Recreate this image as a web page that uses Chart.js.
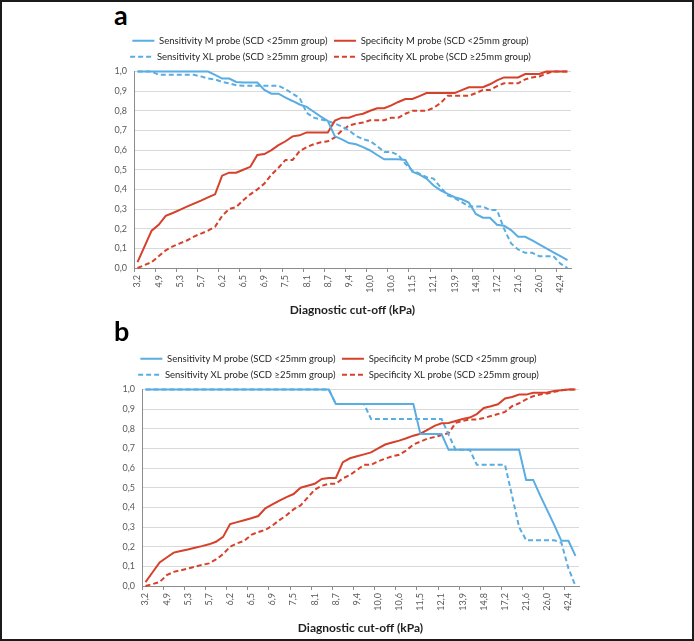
<!DOCTYPE html>
<html>
<head>
<meta charset="utf-8">
<script src="https://cdn.jsdelivr.net/npm/chart.js@4.4.1/dist/chart.umd.min.js"></script>
<style>
  html, body { margin: 0; padding: 0; background: #fff; }
  body { width: 694px; height: 641px; position: relative; overflow: hidden; }
  .frame { position: absolute; left: 0; top: 0; width: 694px; height: 641px; box-sizing: border-box; border: 2px solid #1b1b1b; pointer-events: none; }
  .panel-letter { position: absolute; font-family: Lato, 'Liberation Sans', sans-serif; font-weight: bold; font-size: 27px; color: #000; line-height: 1; }
  canvas { position: absolute; }
</style>
</head>
<body>
<div class="panel-letter" style="left:114px; top:1px;">a</div>
<canvas id="chartA" width="520" height="320" style="left:85px; top:0px;"></canvas>
<div class="panel-letter" style="left:114px; top:317px;">b</div>
<canvas id="chartB" width="520" height="321" style="left:93px; top:320px;"></canvas>
<div class="frame"></div>
<script>
// Cut-off values shown on the x axis (every third cut-off is labelled)
const tickLabels = ['3,2', '4,9', '5,3', '5,7', '6,2', '6,5', '6,9', '7,5', '8,1', '8,7', '9,4',
    '10,0', '10,6', '11,5', '12,1', '13,9', '14,8', '17,2', '21,6', '26,0', '42,4'];
const categoryCount = 62;
const categories = [];
for (let i = 0; i < categoryCount; i++) {
    categories.push(i % 3 === 0 ? tickLabels[i / 3] : '');
}

const seriesNames = [
    'Sensitivity M probe (SCD <25mm group)',
    'Specificity M probe (SCD <25mm group)',
    'Sensitivity XL probe (SCD \u226525mm group)',
    'Specificity XL probe (SCD \u226525mm group)'
];

// Panel a
const sensM_a = [1, 1, 1, 1, 1, 1, 1, 1, 1, 1, 1,
    0.983, 0.964, 0.964, 0.947, 0.944, 0.944, 0.944, 0.906, 0.887, 0.887,
    0.867, 0.85, 0.832, 0.82, 0.795, 0.77, 0.748, 0.67, 0.655, 0.636,
    0.63, 0.615, 0.598, 0.575, 0.553, 0.553, 0.553, 0.55, 0.49, 0.475,
    0.455, 0.42, 0.395, 0.377, 0.36, 0.35, 0.333, 0.275, 0.256, 0.256,
    0.22, 0.215, 0.193, 0.159, 0.159, 0.14, 0.12, 0.10, 0.08, 0.06, 0.04];
const specM_a = [0.03, 0.11, 0.19, 0.22, 0.265, 0.28, 0.296, 0.312, 0.328, 0.343, 0.359,
    0.375, 0.47, 0.485, 0.485, 0.50, 0.515, 0.575, 0.58, 0.60, 0.625,
    0.645, 0.67, 0.675, 0.69, 0.69, 0.69, 0.69, 0.75, 0.765, 0.765,
    0.778, 0.785, 0.80, 0.813, 0.813, 0.828, 0.845, 0.86, 0.86, 0.875,
    0.89, 0.89, 0.89, 0.89, 0.89, 0.905, 0.92, 0.92, 0.92, 0.935,
    0.955, 0.97, 0.97, 0.97, 0.987, 0.987, 0.987, 1, 1, 1, 1];
const sensXL_a = [1, 1, 1, 0.983, 0.983, 0.983, 0.983, 0.983, 0.983,
    0.975, 0.964, 0.96, 0.947, 0.94, 0.93, 0.927, 0.927, 0.927, 0.927, 0.927, 0.927,
    0.91, 0.887, 0.865, 0.79, 0.765, 0.756, 0.748, 0.735, 0.72, 0.70,
    0.672, 0.655, 0.646, 0.62, 0.59, 0.59, 0.575, 0.53, 0.495, 0.48,
    0.462, 0.455, 0.41, 0.37, 0.356, 0.335, 0.313, 0.313, 0.313, 0.295,
    0.295, 0.2, 0.125, 0.094, 0.077, 0.077, 0.06, 0.06, 0.06, 0.022, 0];
const specXL_a = [0, 0.015, 0.03, 0.06, 0.09, 0.11, 0.125, 0.14, 0.16, 0.175, 0.19,
    0.21, 0.265, 0.30, 0.31, 0.345, 0.375, 0.40, 0.43, 0.475, 0.51,
    0.55, 0.55, 0.595, 0.615, 0.63, 0.64, 0.645, 0.665, 0.70, 0.725,
    0.735, 0.74, 0.752, 0.752, 0.752, 0.765, 0.765, 0.785, 0.80, 0.80,
    0.80, 0.815, 0.84, 0.876, 0.876, 0.876, 0.876, 0.89, 0.906, 0.906,
    0.925, 0.94, 0.94, 0.94, 0.96, 0.97, 0.975, 0.99, 1, 1, 1];

// Panel b
const sensM_b = [1, 1, 1, 1, 1, 1, 1, 1, 1, 1, 1, 1, 1, 1, 1, 1, 1, 1, 1, 1, 1, 1, 1, 1, 1, 1, 1,
    0.926, 0.926, 0.926, 0.926, 0.926, 0.926, 0.926, 0.926, 0.926, 0.926, 0.926, 0.926,
    0.773, 0.773, 0.773, 0.773,
    0.693, 0.693, 0.693, 0.693, 0.693, 0.693, 0.693, 0.693, 0.693, 0.693, 0.693,
    0.54, 0.54, 0.46, 0.385, 0.31, 0.23, 0.23, 0.153];
const specM_b = [0.02, 0.07, 0.12, 0.145, 0.17, 0.178, 0.186, 0.195, 0.203, 0.212, 0.225,
    0.25, 0.315, 0.325, 0.335, 0.345, 0.356, 0.395, 0.415, 0.435, 0.452,
    0.468, 0.50, 0.51, 0.52, 0.545, 0.55, 0.55, 0.63, 0.65, 0.66,
    0.67, 0.68, 0.70, 0.72, 0.73, 0.74, 0.752, 0.765, 0.775, 0.795,
    0.815, 0.828, 0.83, 0.84, 0.85, 0.857, 0.875, 0.906, 0.915, 0.925,
    0.954, 0.962, 0.974, 0.974, 0.983, 0.983, 0.985, 0.993, 0.996, 1, 1];
const sensXL_b = [1, 1, 1, 1, 1, 1, 1, 1, 1, 1, 1, 1, 1, 1, 1, 1, 1, 1, 1, 1, 1, 1, 1, 1, 1, 1, 1,
    0.926, 0.926, 0.926, 0.926, 0.926,
    0.85, 0.85, 0.85, 0.85, 0.85, 0.85, 0.85, 0.85, 0.85, 0.85, 0.85,
    0.77, 0.693, 0.693, 0.693,
    0.617, 0.617, 0.617, 0.617, 0.617,
    0.46, 0.30, 0.233, 0.233, 0.233, 0.233, 0.233, 0.22, 0.09, 0];
const specXL_b = [0, 0.01, 0.02, 0.055, 0.072, 0.08, 0.089, 0.098, 0.107, 0.115, 0.135,
    0.162, 0.2, 0.217, 0.23, 0.26, 0.275, 0.285, 0.308, 0.335, 0.36,
    0.39, 0.41, 0.45, 0.49, 0.51, 0.52, 0.52, 0.548, 0.565, 0.59,
    0.617, 0.617, 0.635, 0.648, 0.66, 0.668, 0.69, 0.72, 0.735, 0.75,
    0.758, 0.768, 0.778, 0.83, 0.84, 0.847, 0.847, 0.855, 0.865, 0.875,
    0.886, 0.915, 0.93, 0.95, 0.966, 0.975, 0.98, 0.988, 0.996, 1, 1];

const FONT = "Lato, 'Liberation Sans', sans-serif";
const BLUE = '#5aade2';
const RED = '#d5412a';
const DASH = [5, 3];
const AXIS_GREY = '#8c8c8c';

// legend samples: same width and dash as the plotted lines
function legendLabels(chart) {
    return Chart.defaults.plugins.legend.labels.generateLabels(chart).map(item => {
        const ds = chart.data.datasets[item.datasetIndex];
        item.strokeStyle = ds.borderColor;
        item.lineWidth = 2;
        item.lineDash = ds.borderDash || [];
        return item;
    });
}

function buildChart(canvasId, series, pad) {
    const ctx = document.getElementById(canvasId).getContext('2d');
    return new Chart(ctx, {
        type: 'line',
        data: {
            labels: categories,
            datasets: [
                { label: seriesNames[0], data: series[0], borderColor: BLUE, backgroundColor: BLUE },
                { label: seriesNames[1], data: series[1], borderColor: RED, backgroundColor: RED },
                { label: seriesNames[2], data: series[2], borderColor: BLUE, backgroundColor: BLUE, borderDash: DASH },
                { label: seriesNames[3], data: series[3], borderColor: RED, backgroundColor: RED, borderDash: DASH }
            ]
        },
        options: {
            responsive: false,
            animation: false,
            clip: 4,
            layout: {
                padding: { top: pad.top, left: 5, right: 34, bottom: 0 }
            },
            elements: {
                point: { radius: 0 },
                line: { borderWidth: 2, tension: 0, fill: false }
            },
            plugins: {
                legend: {
                    position: 'top',
                    labels: {
                        usePointStyle: true,
                        pointStyle: 'line',
                        pointStyleWidth: 22,
                        padding: 6.5,
                        color: '#1f1f1f',
                        font: { family: FONT, size: 9.5 },
                        generateLabels: legendLabels
                    }
                },
                tooltip: { enabled: false }
            },
            scales: {
                x: {
                    offset: true,
                    grid: {
                        offset: true,
                        drawOnChartArea: false,
                        tickLength: 4,
                        color: c => (c.index !== undefined && c.index % 3 === 0) ? AXIS_GREY : 'rgba(0,0,0,0)',
                        tickColor: c => (c.index !== undefined && c.index % 3 === 0) ? AXIS_GREY : 'rgba(0,0,0,0)'
                    },
                    border: { color: AXIS_GREY, width: 1 },
                    ticks: {
                        autoSkip: false,
                        minRotation: 90,
                        maxRotation: 90,
                        padding: 3,
                        color: '#595959',
                        font: { family: FONT, size: 9 }
                    },
                    title: {
                        display: true,
                        text: 'Diagnostic cut-off (kPa)',
                        color: '#1f1f1f',
                        font: { family: FONT, size: 12, weight: 'bold' },
                        padding: { top: 0, bottom: pad.title }
                    },
                    afterFit: s => { s.height = pad.xh; }
                },
                y: {
                    min: 0,
                    max: 1,
                    grid: { color: '#d9d9d9', drawTicks: false },
                    border: { color: AXIS_GREY, width: 1 },
                    ticks: {
                        stepSize: 0.1,
                        padding: 7,
                        color: '#595959',
                        font: { family: FONT, size: 9 },
                        callback: v => v.toFixed(1).replace('.', ',')
                    },
                    afterFit: s => { s.width = 44; }
                }
            }
        }
    });
}

buildChart('chartA', [sensM_a, specM_a, sensXL_a, specXL_a], { top: 29.5, xh: 52, title: 3 });
buildChart('chartB', [sensM_b, specM_b, sensXL_b, specXL_b], { top: 27.5, xh: 55, title: 6 });
</script>
</body>
</html>
